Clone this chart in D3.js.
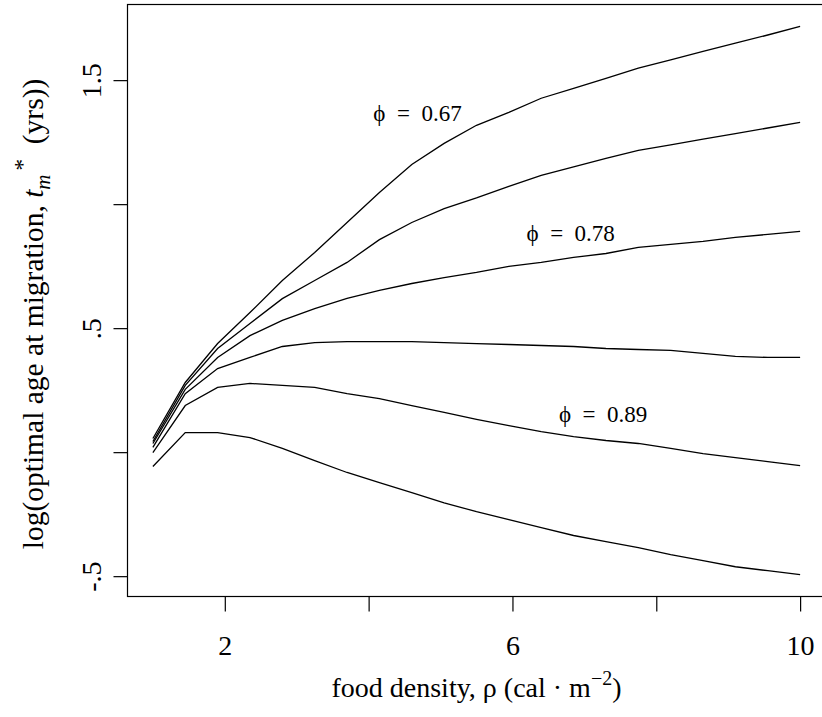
<!DOCTYPE html>
<html>
<head>
<meta charset="utf-8">
<script src="https://cdn.jsdelivr.net/npm/d3@7/dist/d3.min.js"></script>
<style>
  body { margin: 0; background: #fff; }
  text { font-family: "Liberation Serif", "Times New Roman", serif; fill: #000; }
</style>
</head>
<body>
<script>
// food density grid (x)
var rho = [1, 1.45, 1.9, 2.35, 2.8, 3.25, 3.7, 4.15, 4.6, 5.05, 5.5,
           5.95, 6.4, 6.85, 7.3, 7.75, 8.2, 8.65, 9.1, 9.55, 10];

// log optimal age at migration, one array per curve (top to bottom)
var curve1 = [0.055, 0.281, 0.438, 0.563, 0.692, 0.805, 0.926, 1.047, 1.160, 1.245, 1.318,
              1.370, 1.427, 1.467, 1.507, 1.548, 1.582, 1.616, 1.649, 1.682, 1.717];
var curve2 = [0.043, 0.269, 0.418, 0.519, 0.619, 0.692, 0.765, 0.857, 0.926, 0.982, 1.025,
              1.072, 1.116, 1.150, 1.185, 1.217, 1.239, 1.262, 1.284, 1.307, 1.330];
var curve3 = [0.035, 0.253, 0.382, 0.470, 0.531, 0.579, 0.620, 0.652, 0.680, 0.704, 0.725,
              0.749, 0.765, 0.785, 0.801, 0.826, 0.838, 0.850, 0.866, 0.878, 0.890];
var curve4 = [0.019, 0.236, 0.337, 0.382, 0.426, 0.442, 0.446, 0.446, 0.446, 0.442, 0.438,
              0.434, 0.430, 0.426, 0.418, 0.414, 0.410, 0.398, 0.386, 0.382, 0.382];
var curve5 = [-0.002, 0.188, 0.261, 0.277, 0.269, 0.261, 0.236, 0.216, 0.188, 0.160, 0.132,
              0.107, 0.083, 0.063, 0.047, 0.035, 0.015, -0.006, -0.022, -0.038, -0.054];
var curve6 = [-0.058, 0.079, 0.079, 0.059, 0.015, -0.034, -0.082, -0.123, -0.163, -0.204, -0.240,
              -0.272, -0.304, -0.336, -0.361, -0.385, -0.413, -0.437, -0.462, -0.478, -0.494];

var xTicks = [2, 4, 6, 8, 10];
var xTickLabels = ["2", "", "6", "", "10"];
var yTicks = [-0.5, 0, 0.5, 1, 1.5];
var yTickLabels = ["-.5", "", ".5", "", "1.5"];

// curve labels: text, x, y (data units)
var phiLabels = ["0.67", "0.78", "0.89"];
var phiX = [4.68, 6.81, 7.26];
var phiY = [1.366, 0.885, 0.156];

var svg = d3.select("body").append("svg")
  .attr("width", 822)
  .attr("height", 717);

var x = d3.scaleLinear().domain([0.64, 10.36]).range([127, 826]);
var y = d3.scaleLinear().domain([-0.582, 1.805]).range([596.5, 4.5]);

// box round the plot region
svg.append("rect")
  .attr("x", 127.5)
  .attr("y", 4.5)
  .attr("width", 699)
  .attr("height", 592)
  .attr("fill", "none")
  .attr("stroke", "#000")
  .attr("stroke-width", 1.2);

// x axis
var xAxis = svg.append("g")
  .attr("transform", "translate(0,596.5)")
  .call(d3.axisBottom(x).tickValues(xTicks).tickSize(15)
    .tickFormat(function(d, i) { return xTickLabels[i]; }));
xAxis.select(".domain").remove();
xAxis.selectAll("line").attr("stroke", "#000").attr("stroke-width", 1.2);
xAxis.selectAll("text")
  .attr("y", 58)
  .attr("dy", 0)
  .style("font-size", "28px")
  .style("font-family", "'Liberation Serif', serif");

// y axis
var yAxis = svg.append("g")
  .attr("transform", "translate(127.5,0)")
  .call(d3.axisLeft(y).tickValues(yTicks).tickSize(14)
    .tickFormat(function(d, i) { return yTickLabels[i]; }));
yAxis.select(".domain").remove();
yAxis.selectAll("line").attr("stroke", "#000").attr("stroke-width", 1.2);
yAxis.selectAll("text")
  .attr("transform", "rotate(-90)")
  .attr("x", 0)
  .attr("y", -27)
  .attr("dy", 0)
  .attr("text-anchor", "middle")
  .style("font-size", "28px")
  .style("font-family", "'Liberation Serif', serif");

// the curves
var line = d3.line()
  .x(function(d, i) { return x(rho[i]); })
  .y(function(d) { return y(d); });

[curve1, curve2, curve3, curve4, curve5, curve6].forEach(function(c) {
  svg.append("path")
    .datum(c)
    .attr("d", line)
    .attr("fill", "none")
    .attr("stroke", "#000")
    .attr("stroke-width", 1.3);
}); // end curves

// phi labels
phiLabels.forEach(function(lab, i) {
  svg.append("text")
    .attr("x", x(phiX[i]))
    .attr("y", y(phiY[i]))
    .attr("dy", "0.35em")
    .attr("text-anchor", "middle")
    .style("font-size", "23px")
    .text("\u03d5\u2002=\u2002" + lab);
});

// x axis title
var xt = svg.append("text")
  .attr("x", 476.5)
  .attr("y", 697)
  .attr("text-anchor", "middle")
  .style("font-size", "28px");
xt.append("tspan").text("food density, \u03c1 (cal \u00b7 m");
xt.append("tspan").attr("dy", -12).style("font-size", "20px").text("\u22122");
xt.append("tspan").attr("dy", 12).text(")");

// y axis title
var yt = svg.append("text")
  .attr("transform", "translate(43,314) rotate(-90)")
  .attr("text-anchor", "middle")
  .style("font-size", "29.5px");
yt.append("tspan").text("log(optimal age at migration, ");
yt.append("tspan").style("font-style", "italic").text("t");
yt.append("tspan").attr("dy", 7).style("font-style", "italic").style("font-size", "21px").text("m");
yt.append("tspan").attr("dy", -20).attr("dx", 4).style("font-size", "23px").text("*");
yt.append("tspan").attr("dy", 13).text("\u2002(yrs))");
</script>
</body>
</html>
